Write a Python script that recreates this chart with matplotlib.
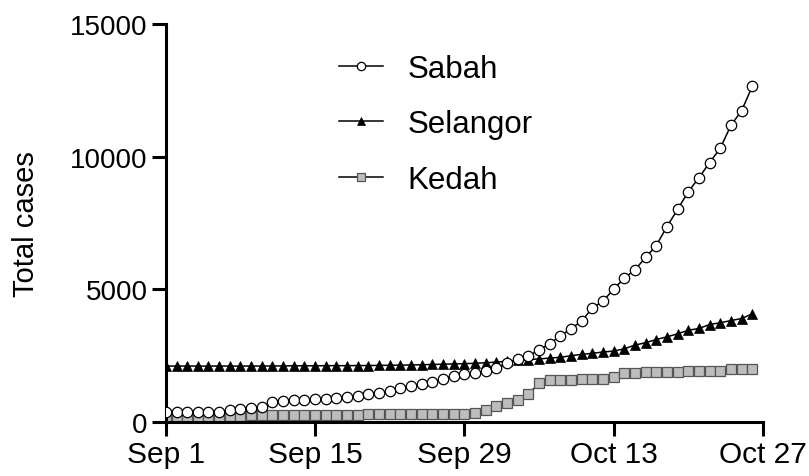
import matplotlib
matplotlib.use("Agg")
import matplotlib.pyplot as plt
import numpy as np

plt.rcParams['font.family'] = ['Liberation Sans', 'DejaVu Sans']

# days since Sep 1
days = np.arange(56)

sabah = [390, 390, 390, 390, 390, 390, 460, 510, 535, 560,
         740, 800, 825, 840, 860, 885, 910, 960, 990, 1050,
         1110, 1175, 1275, 1360, 1450, 1510, 1640, 1740, 1800, 1840,
         1925, 2050, 2210, 2360, 2490, 2710, 2960, 3240, 3520, 3800,
         4300, 4550, 5010, 5420, 5740, 6200, 6650, 7360, 8010, 8675,
         9200, 9775, 10310, 11175, 11725, 12640]

selangor = [2110, 2110, 2110, 2110, 2110, 2110, 2110, 2110, 2110, 2110,
            2115, 2115, 2120, 2120, 2120, 2125, 2125, 2125, 2130, 2130,
            2135, 2140, 2145, 2150, 2160, 2170, 2180, 2190, 2200, 2215,
            2235, 2260, 2290, 2320, 2350, 2380, 2410, 2440, 2500, 2550,
            2590, 2640, 2675, 2760, 2900, 2990, 3110, 3210, 3325, 3460,
            3525, 3675, 3740, 3825, 3900, 4075]

kedah = [200, 200, 200, 200, 200, 200, 225, 240, 255, 262,
         265, 268, 270, 272, 275, 278, 280, 282, 285, 288,
         290, 292, 295, 297, 300, 302, 305, 308, 310, 330,
         450, 610, 710, 840, 1050, 1460, 1570, 1580, 1600, 1615,
         1625, 1640, 1700, 1840, 1860, 1880, 1895, 1900, 1905, 1910,
         1915, 1920, 1925, 1985, 1990, 1995]

tick_days = [0, 14, 28, 42, 56]
tick_labels = ["Sep 1", "Sep 15", "Sep 29", "Oct 13", "Oct 27"]

fig = plt.figure(figsize=(8.09, 4.77), dpi=100)
ax = fig.add_axes([0.205, 0.113, 0.738, 0.835])

ax.plot(days, sabah, color='black', lw=1.1, marker='o', ms=7.5,
        mfc='white', mec='black', mew=0.9, label='Sabah', zorder=3)
ax.plot(days, selangor, color='black', lw=1.1, marker='^', ms=7.5,
        mfc='black', mec='black', mew=0.5, label='Selangor', zorder=2)
ax.plot(days, kedah, color='black', lw=1.1, marker='s', ms=7,
        mfc='#bdbdbd', mec='#555555', mew=0.9, label='Kedah', zorder=2)

ax.set_xlim(0, 56)
ax.set_ylim(0, 15000)
ax.set_xticks(tick_days)
ax.set_xticklabels(tick_labels)
ax.set_yticks([0, 5000, 10000, 15000])
ax.set_ylabel('Total cases', fontsize=21, labelpad=22)

for s in ['top', 'right']:
    ax.spines[s].set_visible(False)
for s in ['left', 'bottom']:
    ax.spines[s].set_linewidth(2.2)
ax.tick_params(axis='both', width=2.2, length=10, pad=3)
ax.tick_params(axis='x', labelsize=21.5)
ax.tick_params(axis='y', labelsize=20)

ax.legend(loc='upper left', bbox_to_anchor=(0.29, 0.925), frameon=False,
          fontsize=22.5, handlelength=1.4, handletextpad=0.8,
          labelspacing=0.82, borderpad=0, borderaxespad=0, markerscale=0.8)

fig.savefig('out.png', dpi=100)
